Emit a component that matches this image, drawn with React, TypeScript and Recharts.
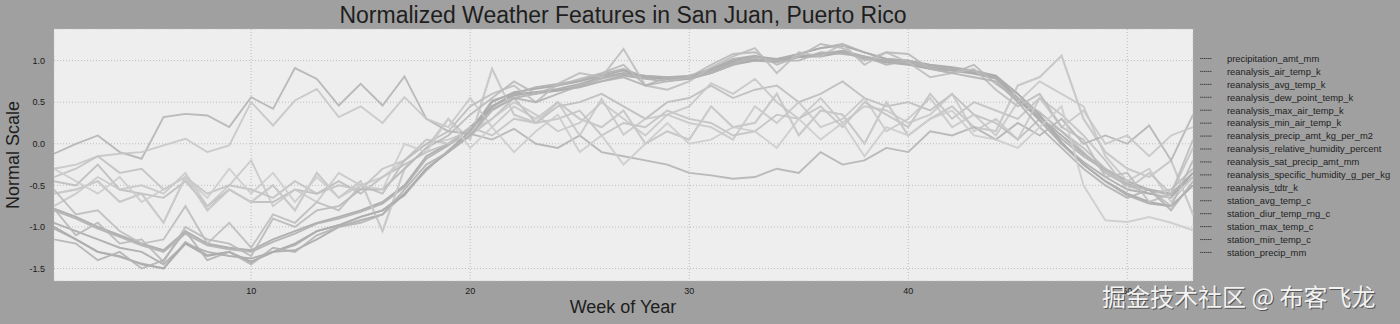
import React from 'react'
import { LineChart, Line, XAxis, YAxis, CartesianGrid } from 'recharts'

const WEEKS = [
  1, 2, 3, 4, 5, 6, 7, 8, 9, 10, 11, 12, 13, 14, 15, 16, 17, 18, 19, 20, 21, 22, 23, 24, 25, 26, 27,
  28, 29, 30, 31, 32, 33, 34, 35, 36, 37, 38, 39, 40, 41, 42, 43, 44, 45, 46, 47, 48, 49, 50, 51, 52, 53,
]

const X_TICKS = [10, 20, 30, 40, 50]
const Y_TICKS = [-1.5, -1.0, -0.5, 0.0, 0.5, 1.0]

const SERIES_NAMES = [
  'precipitation_amt_mm',
  'reanalysis_air_temp_k',
  'reanalysis_avg_temp_k',
  'reanalysis_dew_point_temp_k',
  'reanalysis_max_air_temp_k',
  'reanalysis_min_air_temp_k',
  'reanalysis_precip_amt_kg_per_m2',
  'reanalysis_relative_humidity_percent',
  'reanalysis_sat_precip_amt_mm',
  'reanalysis_specific_humidity_g_per_kg',
  'reanalysis_tdtr_k',
  'station_avg_temp_c',
  'station_diur_temp_rng_c',
  'station_max_temp_c',
  'station_min_temp_c',
  'station_precip_mm',
]

// weekly normalized values
const precipitationAmt = [-0.6, -0.55, -0.45, -0.7, -0.6, -0.95, -0.4, -0.8, -0.55, -0.7, -0.5, -0.8, -0.35, -0.65, -0.45, -1.05, -0.3, -0.05, 0.3, 0.05, 0.9, 0.35, 0.25, 0.5, 0.3, 0.2, 0.4, 0.0, 0.15, 0.05, 0.45, 0.2, 0.25, 0.6, 0.1, 0.4, 0.35, 0.0, 0.5, 0.1, 0.3, 0.45, 0.2, 0.15, 0.7, 0.8, 1.06, 0.3, -0.1, -0.3, -0.4, -0.2, -0.85]
const airTemp = [-0.78, -0.88, -1.0, -1.1, -1.2, -1.28, -1.05, -1.2, -1.25, -1.28, -1.15, -1.05, -0.95, -0.88, -0.8, -0.7, -0.5, -0.15, 0.0, 0.2, 0.45, 0.58, 0.62, 0.66, 0.72, 0.8, 0.85, 0.82, 0.8, 0.8, 0.88, 0.98, 1.02, 1.0, 1.05, 1.08, 1.12, 1.05, 1.0, 0.98, 0.92, 0.9, 0.85, 0.8, 0.55, 0.32, 0.1, -0.12, -0.3, -0.45, -0.55, -0.6, -0.35]
const avgTemp = [-0.8, -0.9, -1.02, -1.12, -1.22, -1.3, -1.08, -1.22, -1.27, -1.3, -1.18, -1.08, -0.96, -0.9, -0.82, -0.72, -0.52, -0.18, -0.02, 0.18, 0.42, 0.55, 0.6, 0.64, 0.7, 0.78, 0.84, 0.8, 0.78, 0.78, 0.86, 0.96, 1.0, 0.98, 1.04, 1.06, 1.1, 1.04, 0.98, 0.96, 0.9, 0.88, 0.84, 0.78, 0.52, 0.3, 0.06, -0.15, -0.32, -0.48, -0.56, -0.62, -0.4]
const dewPointTemp = [-1.0, -1.15, -1.3, -1.35, -1.45, -1.5, -1.2, -1.35, -1.3, -1.42, -1.3, -1.2, -1.05, -0.98, -0.88, -0.8, -0.62, -0.3, -0.1, 0.15, 0.5, 0.62, 0.66, 0.7, 0.75, 0.82, 0.88, 0.8, 0.78, 0.8, 0.9, 1.0, 1.05, 1.02, 1.08, 1.15, 1.18, 1.1, 1.02, 1.0, 0.95, 0.92, 0.88, 0.82, 0.6, 0.35, 0.02, -0.25, -0.45, -0.6, -0.7, -0.75, -0.5]
const maxAirTemp = [-0.45, -0.5, -0.25, -0.55, -0.6, -0.65, -0.45, -0.75, -0.55, -0.7, -0.7, -0.55, -0.6, -0.45, -0.6, -0.4, -0.25, -0.1, 0.0, 0.1, 0.3, 0.55, 0.25, 0.45, 0.5, 0.6, 0.45, 0.3, 0.5, 0.55, 0.7, 0.55, 0.65, 0.7, 0.5, 0.6, 0.75, 0.55, 0.45, 0.5, 0.4, 0.6, 0.35, 0.25, 0.05, 0.3, 0.15, -0.05, -0.3, -0.5, -0.6, -0.55, -0.3]
const minAirTemp = [-0.95, -1.05, -1.15, -1.25, -1.3, -1.45, -1.2, -1.3, -1.35, -1.38, -1.3, -1.28, -1.15, -1.0, -0.92, -0.85, -0.6, -0.3, -0.1, 0.1, 0.45, 0.6, 0.62, 0.64, 0.68, 0.75, 0.82, 0.78, 0.75, 0.78, 0.85, 0.95, 1.0, 1.0, 1.05, 1.05, 1.1, 1.02, 0.98, 0.95, 0.9, 0.88, 0.85, 0.8, 0.55, 0.28, 0.0, -0.22, -0.4, -0.55, -0.6, -0.65, -0.35]
const precipAmtKg = [-0.75, -0.6, -0.4, -0.55, -0.5, -0.6, -0.35, -0.75, -0.5, -0.2, -0.75, -0.55, -0.7, -0.35, -0.5, -0.4, -0.2, 0.0, 0.05, 0.15, 0.3, 0.5, 0.35, 0.15, 0.25, 0.5, 0.3, 0.1, 0.35, 0.25, 0.2, 0.05, 0.45, 0.25, 0.5, 0.2, 0.3, 0.55, 0.15, 0.3, 0.55, 0.2, 0.35, 0.1, 0.5, 0.75, 0.6, 0.45, -0.15, -0.45, -0.3, -0.7, -0.4]
const relativeHumidity = [-0.4, -0.3, -0.15, -0.35, -0.3, -0.55, -0.4, -0.6, -0.5, -0.55, -0.65, -0.45, -0.6, -0.5, -0.55, -0.3, -0.2, 0.05, 0.0, 0.2, 0.1, 0.3, 0.25, 0.3, 0.4, 0.1, 0.25, 0.2, 0.4, 0.3, 0.25, 0.1, 0.15, 0.35, 0.3, 0.45, 0.2, 0.5, 0.35, 0.2, 0.6, 0.3, 0.5, 0.4, 0.3, 0.55, 0.35, 0.1, -0.2, -0.55, -0.35, -0.6, -0.05]
const satPrecipAmt = [-0.6, -0.55, -0.45, -0.7, -0.6, -0.95, -0.4, -0.8, -0.55, -0.7, -0.5, -0.8, -0.35, -0.65, -0.45, -1.05, -0.3, -0.05, 0.3, 0.05, 0.9, 0.35, 0.25, 0.5, 0.3, 0.2, 0.4, 0.0, 0.15, 0.05, 0.45, 0.2, 0.25, 0.6, 0.1, 0.4, 0.35, 0.0, 0.5, 0.1, 0.3, 0.45, 0.2, 0.15, 0.7, 0.8, 1.06, 0.3, -0.1, -0.3, -0.4, -0.2, -0.85]
const specificHumidity = [-1.02, -1.15, -1.3, -1.36, -1.44, -1.5, -1.18, -1.34, -1.3, -1.42, -1.3, -1.22, -1.05, -0.98, -0.88, -0.8, -0.6, -0.32, -0.08, 0.15, 0.52, 0.6, 0.68, 0.72, 0.76, 0.84, 0.9, 0.8, 0.8, 0.82, 0.9, 1.02, 1.06, 1.0, 1.08, 1.15, 1.2, 1.1, 1.02, 1.0, 0.94, 0.9, 0.86, 0.8, 0.6, 0.35, 0.0, -0.25, -0.45, -0.62, -0.72, -0.75, -0.5]
const tdtr = [-0.12, 0.0, 0.1, -0.1, -0.18, 0.32, 0.36, 0.34, 0.2, 0.56, 0.42, 0.91, 0.78, 0.46, 0.72, 0.46, 0.81, 0.3, 0.15, 0.12, 0.05, 0.18, 0.0, -0.05, 0.1, -0.1, -0.15, -0.2, -0.25, -0.35, -0.38, -0.42, -0.4, -0.3, -0.35, -0.1, -0.25, -0.2, -0.05, -0.1, 0.15, 0.1, 0.2, 0.05, 0.25, 0.1, 0.3, 0.0, 0.1, 0.0, 0.22, -0.2, 0.35]
const stationAvgTemp = [-0.78, -1.1, -0.95, -1.2, -1.15, -1.42, -1.0, -1.15, -1.2, -1.35, -0.9, -1.0, -0.8, -0.75, -0.55, -0.55, -0.3, -0.05, 0.1, 0.35, 0.55, 0.75, 0.6, 0.7, 0.78, 0.85, 0.95, 0.7, 0.75, 0.8, 0.95, 1.08, 1.1, 0.95, 1.05, 1.2, 1.15, 1.0, 1.1, 1.08, 0.9, 0.85, 0.95, 0.72, 0.55, 0.38, 0.15, -0.1, -0.35, -0.5, -0.55, -0.75, -0.2]
const stationDiurTempRng = [-0.3, -0.25, -0.15, -0.12, -0.1, -0.02, 0.06, -0.1, -0.02, 0.5, 0.22, 0.52, 0.66, 0.32, 0.45, 0.25, 0.56, 0.3, 0.2, 0.55, 0.2, 0.45, 0.3, 0.5, 0.1, 0.54, 0.11, 0.3, 0.35, 0.45, 0.73, 0.6, 0.78, 0.5, 0.3, 0.55, 0.25, 0.45, 0.4, 0.25, 0.35, 0.6, 0.15, 0.3, 0.05, 0.55, 0.2, 0.4, 0.0, 0.1, -0.15, 0.1, 0.2]
const stationMaxTemp = [-0.55, -0.85, -0.8, -1.05, -1.2, -1.15, -0.75, -1.2, -0.95, -1.25, -0.85, -0.95, -0.7, -0.8, -0.5, -0.6, -0.2, 0.0, 0.15, 0.45, 0.6, 0.7, 0.5, 0.72, 0.85, 0.8, 1.14, 0.7, 0.65, 0.75, 0.92, 1.05, 1.15, 0.85, 1.1, 1.05, 1.2, 0.95, 1.1, 0.98, 0.8, 0.85, 0.9, 0.65, 0.45, 0.6, 0.2, 0.05, -0.4, -0.35, -0.7, -0.6, 0.05]
const stationMinTemp = [-1.15, -1.2, -1.4, -1.3, -1.5, -1.4, -1.05, -1.4, -1.3, -1.45, -1.25, -1.3, -1.1, -1.0, -0.95, -0.85, -0.55, -0.25, -0.1, 0.1, 0.4, 0.55, 0.5, 0.6, 0.7, 0.75, 0.8, 0.7, 0.8, 0.78, 0.85, 0.95, 1.05, 1.0, 1.0, 1.1, 1.08, 1.05, 0.95, 1.0, 0.9, 0.85, 0.8, 0.75, 0.5, 0.2, -0.05, -0.3, -0.5, -0.65, -0.55, -0.8, -0.45]
const stationPrecip = [-0.3, -0.45, -0.6, -0.4, -0.7, -0.55, -0.4, -0.65, -0.3, -0.6, -0.35, -0.7, -0.4, -0.65, -0.5, -0.55, 0.0, -0.1, 0.3, -0.05, 0.2, -0.1, 0.15, 0.35, -0.1, 0.1, -0.25, 0.0, 0.25, 0.0, 0.05, 0.2, 0.15, -0.05, 0.3, 0.05, 0.25, -0.15, 0.2, 0.1, 0.3, 0.4, 0.1, 0.05, -0.05, 0.2, 0.45, -0.5, -0.92, -0.94, -0.88, -0.95, -1.04]

const SERIES_VALUES = [
  precipitationAmt, airTemp, avgTemp, dewPointTemp, maxAirTemp, minAirTemp, precipAmtKg, relativeHumidity,
  satPrecipAmt, specificHumidity, tdtr, stationAvgTemp, stationDiurTempRng, stationMaxTemp, stationMinTemp, stationPrecip,
]

const LINE_COLORS = [
  '#c4c4c4', '#a9a9a9', '#b0b0b0', '#a6a6a6', '#bdbdbd', '#ababab', '#c8c8c8', '#c2c2c2',
  '#cacaca', '#aeaeae', '#b4b4b4', '#b8b8b8', '#c6c6c6', '#bcbcbc', '#b2b2b2', '#cccccc',
]

const rows = WEEKS.map((week, i) => {
  const row: Record<string, number> = { week }
  SERIES_VALUES.forEach((vals, s) => {
    row['s' + s] = vals[i]
  })
  return row
})

const FONT = '"Liberation Sans", Arial, sans-serif'
const tickStyle = { fill: '#1a1a1a', fontSize: 9, fontFamily: FONT }

export default function App() {
  return (
    <div style={{ position: 'absolute', left: 0, top: 0, width: 1400, height: 324, background: '#a0a0a0' }}>
      <LineChart width={1400} height={324} data={rows} margin={{ top: 29, right: 207, bottom: 0, left: 0 }}>
        <CartesianGrid fill="#eeeeee" stroke="#bdbdbd" strokeDasharray="1 2" />
        <XAxis
          dataKey="week"
          type="number"
          domain={[1, 53]}
          ticks={X_TICKS}
          height={43}
          axisLine={false}
          tickLine={false}
          tickSize={0}
          tickMargin={7}
          tick={tickStyle}
        />
        <YAxis
          type="number"
          domain={[-1.65, 1.38]}
          ticks={Y_TICKS}
          width={54}
          axisLine={false}
          tickLine={false}
          tickSize={0}
          tickMargin={9}
          tick={tickStyle}
          tickFormatter={(v: number) => v.toFixed(1)}
          allowDataOverflow
        />
        {SERIES_NAMES.map((name, s) => (
          <Line
            key={name}
            name={name}
            dataKey={'s' + s}
            type="linear"
            stroke={LINE_COLORS[s]}
            strokeWidth={1.9}
            strokeOpacity={0.9}
            dot={false}
            isAnimationActive={false}
          />
        ))}
      </LineChart>
      <svg width={1400} height={324} style={{ position: 'absolute', left: 0, top: 0, pointerEvents: 'none' }}>
        <text x={623} y={23} textAnchor="middle" fontSize={23} fontFamily={FONT} fill="#1e1e1e">
          Normalized Weather Features in San Juan, Puerto Rico
        </text>
        <text x={623} y={313} textAnchor="middle" fontSize={18} fontFamily={FONT} fill="#1e1e1e">
          Week of Year
        </text>
        <text
          x={0}
          y={0}
          transform="translate(19,155) rotate(-90)"
          textAnchor="middle"
          fontSize={18}
          fontFamily={FONT}
          fill="#1e1e1e"
        >
          Normal Scale
        </text>
        {SERIES_NAMES.map((name, s) => (
          <g key={name}>
            <line x1={1200} x2={1212} y1={58.5 + s * 12.93} y2={58.5 + s * 12.93} stroke="#444" strokeWidth={1} strokeDasharray="1.5 0.5" />
            <text x={1227} y={58.5 + s * 12.93} dy="0.35em" fontSize={9.4} fontFamily={FONT} fill="#222">
              {name}
            </text>
          </g>
        ))}
        <text x={1103} y={307} fontSize={24} fontFamily='"Noto Sans CJK SC", sans-serif' fill="#555">
          掘金技术社区 @ 布客飞龙
        </text>
        <text x={1102} y={306} fontSize={24} fontFamily='"Noto Sans CJK SC", sans-serif' fill="#f2f2f2">
          掘金技术社区 @ 布客飞龙
        </text>
      </svg>
    </div>
  )
}
